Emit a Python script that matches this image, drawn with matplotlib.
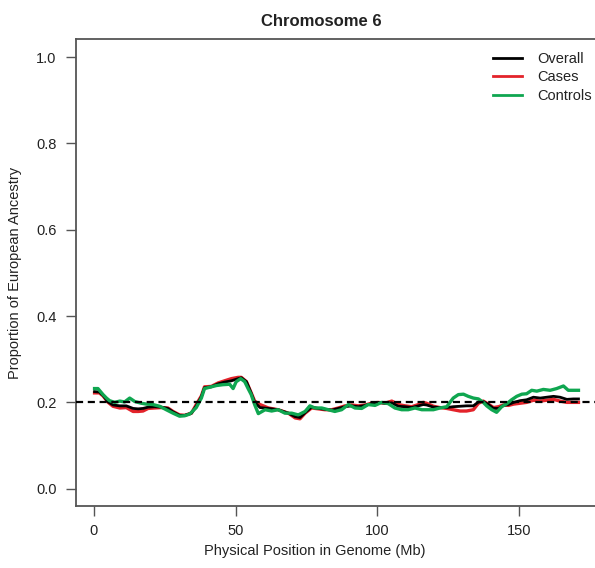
import matplotlib
matplotlib.use('Agg')
import matplotlib.pyplot as plt

plt.rcParams['font.family'] = ['Liberation Sans', 'DejaVu Sans']

# position (Mb) and ancestry proportion
pos_ctrl = [0.2, 1.4, 3.2, 4.4, 5.5, 7.3, 9.1, 10.8, 12.6, 14.4, 16.7, 18.5, 20.8, 23.2,
            25.5, 27.9, 30.2, 32.0, 33.8, 36.1, 37.9, 39.0, 40.8, 43.2, 45.5, 47.9, 49.1,
            50.2, 51.8, 53.2, 54.4, 55.5, 56.7, 58.0, 60.4, 62.7, 65.0, 67.4, 69.8, 72.1,
            74.5, 76.2, 78.0, 80.4, 82.7, 85.0, 87.4, 89.8, 92.1, 94.5, 96.8, 99.2, 101.5,
            103.9, 106.2, 108.6, 110.9, 113.3, 115.7, 117.4, 119.8, 122.1, 124.5, 126.8,
            128.6, 130.4, 132.1, 133.9, 135.7, 137.4, 138.6, 140.4, 142.1, 143.9, 145.7,
            147.4, 149.2, 151.0, 152.7, 154.5, 156.3, 158.6, 161.0, 163.3, 165.7, 167.4,
            169.2, 171.0]
controls = [0.232, 0.232, 0.218, 0.210, 0.204, 0.200, 0.203, 0.201, 0.210, 0.202, 0.198,
            0.196, 0.195, 0.191, 0.183, 0.175, 0.168, 0.169, 0.173, 0.188, 0.210, 0.232,
            0.235, 0.239, 0.241, 0.242, 0.232, 0.248, 0.255, 0.248, 0.232, 0.218, 0.195,
            0.174, 0.183, 0.180, 0.183, 0.175, 0.175, 0.171, 0.179, 0.192, 0.187, 0.187,
            0.183, 0.179, 0.183, 0.195, 0.187, 0.186, 0.195, 0.193, 0.200, 0.197, 0.187,
            0.183, 0.183, 0.187, 0.183, 0.183, 0.183, 0.187, 0.190, 0.210, 0.218, 0.219,
            0.214, 0.210, 0.208, 0.200, 0.192, 0.183, 0.177, 0.190, 0.197, 0.206, 0.214,
            0.219, 0.220, 0.228, 0.226, 0.230, 0.228, 0.232, 0.238, 0.228, 0.228, 0.228]

pos_case = [0.2, 1.9, 3.2, 5.0, 6.7, 9.1, 11.4, 13.8, 15.6, 17.3, 19.1, 21.4, 23.8, 26.1,
            27.9, 30.2, 32.0, 34.4, 36.1, 37.9, 39.0, 41.4, 43.8, 46.1, 48.5, 50.9, 52.0,
            53.8, 55.5, 56.7, 58.6, 61.6, 65.0, 68.6, 71.0, 72.7, 74.5, 76.8, 79.2, 81.5,
            83.9, 86.2, 88.6, 90.9, 93.3, 95.7, 98.0, 100.4, 102.7, 105.1, 107.4, 109.8,
            112.1, 114.5, 116.2, 117.4, 119.8, 122.1, 124.5, 126.8, 129.2, 131.5, 133.9,
            135.7, 137.4, 139.2, 141.0, 142.8, 144.5, 146.3, 148.1, 150.4, 152.7, 155.1,
            157.5, 159.8, 162.2, 164.5, 166.9, 169.2, 171.0]
cases = [0.222, 0.222, 0.215, 0.200, 0.191, 0.187, 0.188, 0.179, 0.179, 0.180, 0.186,
         0.187, 0.188, 0.187, 0.179, 0.171, 0.170, 0.175, 0.195, 0.215, 0.236, 0.237,
         0.245, 0.250, 0.255, 0.258, 0.258, 0.248, 0.222, 0.203, 0.195, 0.187, 0.183,
         0.175, 0.164, 0.162, 0.175, 0.187, 0.185, 0.183, 0.183, 0.187, 0.192, 0.194,
         0.192, 0.194, 0.198, 0.200, 0.198, 0.203, 0.195, 0.192, 0.190, 0.195, 0.200,
         0.198, 0.191, 0.188, 0.186, 0.183, 0.180, 0.180, 0.183, 0.198, 0.203, 0.196,
         0.188, 0.190, 0.194, 0.193, 0.196, 0.198, 0.200, 0.205, 0.203, 0.205, 0.207,
         0.203, 0.200, 0.200, 0.200]
overall = [0.225, 0.224, 0.216, 0.201, 0.194, 0.192, 0.192, 0.186, 0.185, 0.186, 0.189,
           0.190, 0.189, 0.186, 0.178, 0.170, 0.170, 0.175, 0.192, 0.213, 0.234, 0.236,
           0.243, 0.247, 0.250, 0.255, 0.257, 0.248, 0.221, 0.200, 0.188, 0.186, 0.183,
           0.175, 0.167, 0.165, 0.176, 0.189, 0.186, 0.184, 0.182, 0.186, 0.190, 0.192,
           0.190, 0.193, 0.197, 0.200, 0.198, 0.199, 0.191, 0.190, 0.188, 0.192, 0.195,
           0.194, 0.189, 0.188, 0.188, 0.190, 0.191, 0.192, 0.192, 0.201, 0.202, 0.195,
           0.186, 0.186, 0.193, 0.195, 0.200, 0.204, 0.206, 0.212, 0.210, 0.212, 0.214,
           0.212, 0.207, 0.208, 0.208]

y_ticks = [0.0, 0.2, 0.4, 0.6, 0.8, 1.0]
x_ticks = [0, 50, 100, 150]
ref_level = 0.2

W, H = 595, 568
fig = plt.figure(figsize=(W / 100, H / 100), dpi=100)
# box from x=76..600px, y=39..506px (right edge runs off the picture)
ax = fig.add_axes([76 / W, 1 - 506 / H, 524 / W, 467 / H])

c_red = '#e3232a'
c_green = '#0fa650'
lc = '#555555'

l_case, = ax.plot(pos_case, cases, color=c_red, lw=2.4, label='Cases')
l_all, = ax.plot(pos_case, overall, color='black', lw=2.0, label='Overall')
l_ctrl, = ax.plot(pos_ctrl, controls, color=c_green, lw=2.4, label='Controls')
ax.axhline(ref_level, color='black', lw=1.6, dashes=(3.2, 2.1), zorder=5)

ax.set_xlim(-6.35, 178.6)
ax.set_ylim(-0.04, 1.0417)
ax.set_xticks(x_ticks)
ax.set_yticks(y_ticks)
ax.set_xticklabels([str(t) for t in x_ticks])
ax.set_yticklabels(['%.1f' % t for t in y_ticks])
ax.tick_params(axis='both', direction='out', length=7, width=1, color=lc,
               labelsize=10.5, labelcolor='#222222')
ax.tick_params(axis='y', pad=7)
ax.tick_params(axis='x', pad=6)
for s in ax.spines.values():
    s.set_color(lc)
    s.set_linewidth(1.3)

fig.text(321 / W, 1 - 21 / H, 'Chromosome 6', ha='center', va='center',
         fontsize=12, fontweight='bold', color='#222222')
fig.text(315 / W, 1 - 551 / H, 'Physical Position in Genome (Mb)', ha='center',
         va='center', fontsize=10.5, color='#222222')
fig.text(15 / W, 1 - 273 / H, 'Proportion of European Ancestry', ha='center',
         va='center', rotation=90, fontsize=10.5, color='#222222')

leg = ax.legend(handles=[l_all, l_case, l_ctrl], loc='upper left',
                bbox_to_anchor=(493 / W, 1 - 52 / H), bbox_transform=fig.transFigure,
                frameon=False, fontsize=10.5, handlelength=2.0, handletextpad=1.0,
                labelspacing=0.3, borderpad=0, borderaxespad=0)
for h in leg.get_lines():
    h.set_linewidth(2)
for t in leg.get_texts():
    t.set_color('#222222')

fig.savefig('out.png', dpi=100)
